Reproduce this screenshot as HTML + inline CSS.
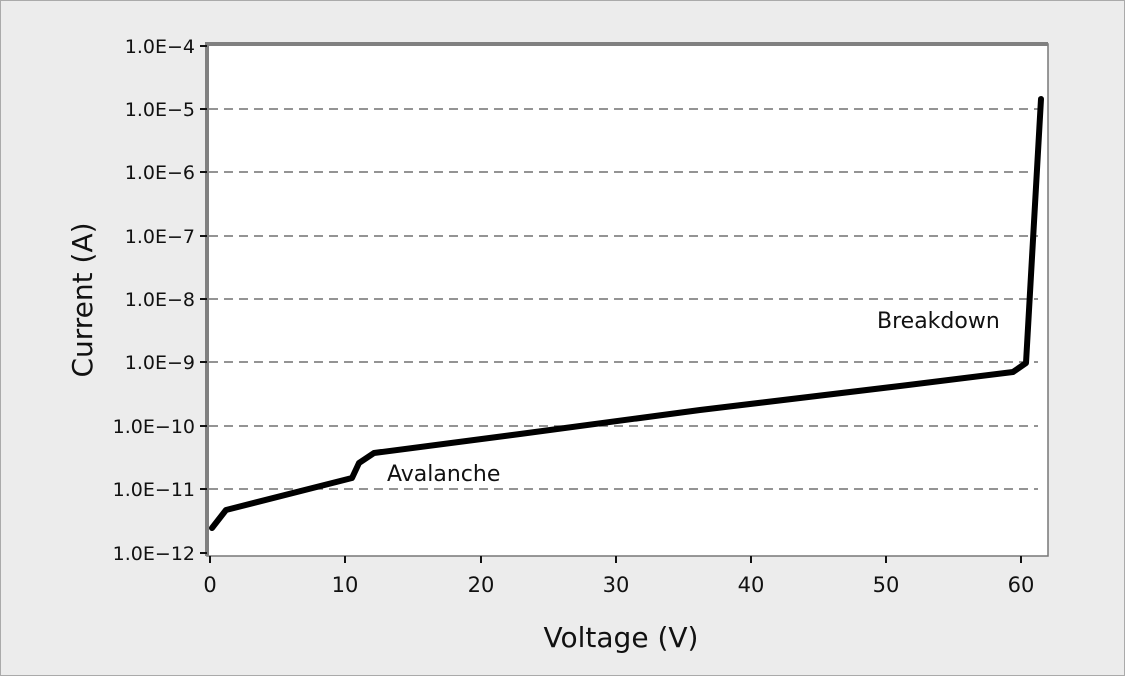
<!DOCTYPE html>
<html><head><style>
html,body{margin:0;padding:0;background:#ececec;}
svg{display:block;}
text{font-family:"DejaVu Sans","Liberation Sans",sans-serif;fill:#111;}
</style></head><body>
<svg width="1125" height="676" viewBox="0 0 1125 676" xmlns="http://www.w3.org/2000/svg">
<rect x="0.5" y="0.5" width="1124" height="675" fill="#ececec" stroke="#aaa"/>
<rect x="207" y="44" width="841" height="512" fill="#fff" stroke="#777" stroke-width="1.5"/>
<g stroke="#555" stroke-width="1.3" stroke-dasharray="9,6">
<line x1="209" y1="109" x2="1038" y2="109"/>
<line x1="209" y1="172" x2="1038" y2="172"/>
<line x1="209" y1="236" x2="1038" y2="236"/>
<line x1="209" y1="299" x2="1038" y2="299"/>
<line x1="209" y1="362" x2="1038" y2="362"/>
<line x1="209" y1="426" x2="1038" y2="426"/>
<line x1="209" y1="489" x2="1038" y2="489"/>
</g>
<rect x="205" y="42" width="4" height="514" fill="#808080"/>
<rect x="205" y="42" width="843" height="4" fill="#808080"/>
<g stroke="#111" stroke-width="2">
<line x1="200" y1="46" x2="207" y2="46"/><line x1="200" y1="109" x2="207" y2="109"/>
<line x1="200" y1="172" x2="207" y2="172"/><line x1="200" y1="236" x2="207" y2="236"/>
<line x1="200" y1="299" x2="207" y2="299"/><line x1="200" y1="362" x2="207" y2="362"/>
<line x1="200" y1="426" x2="207" y2="426"/><line x1="200" y1="489" x2="207" y2="489"/>
<line x1="200" y1="553" x2="207" y2="553"/>
<line x1="210" y1="556" x2="210" y2="563"/><line x1="345" y1="556" x2="345" y2="563"/>
<line x1="481" y1="556" x2="481" y2="563"/><line x1="616" y1="556" x2="616" y2="563"/>
<line x1="751" y1="556" x2="751" y2="563"/><line x1="886" y1="556" x2="886" y2="563"/>
<line x1="1021" y1="556" x2="1021" y2="563"/>
</g>
<g font-size="19" text-anchor="end">
<text x="195" y="53">1.0E−4</text><text x="195" y="116">1.0E−5</text>
<text x="195" y="179">1.0E−6</text><text x="195" y="243">1.0E−7</text>
<text x="195" y="306">1.0E−8</text><text x="195" y="369">1.0E−9</text>
<text x="195" y="433">1.0E−10</text><text x="195" y="496">1.0E−11</text>
<text x="195" y="560">1.0E−12</text>
</g>
<g font-size="21" text-anchor="middle">
<text x="210" y="592">0</text><text x="345" y="592">10</text><text x="481" y="592">20</text>
<text x="616" y="592">30</text><text x="751" y="592">40</text><text x="886" y="592">50</text>
<text x="1021" y="592">60</text>
</g>
<text x="621" y="647" font-size="28" text-anchor="middle">Voltage (V)</text>
<text transform="translate(92,300) rotate(-90)" font-size="28" text-anchor="middle">Current (A)</text>
<text x="387" y="481" font-size="22">Avalanche</text>
<text x="877" y="328" font-size="22">Breakdown</text>
<polyline fill="none" stroke="#000" stroke-width="6" stroke-linejoin="round" stroke-linecap="round"
points="212,528 226,510 352,478 359,463 374,453 520,434 700,410 900,386 1013,372 1026,363 1041,99"/>
</svg>
</body></html>
